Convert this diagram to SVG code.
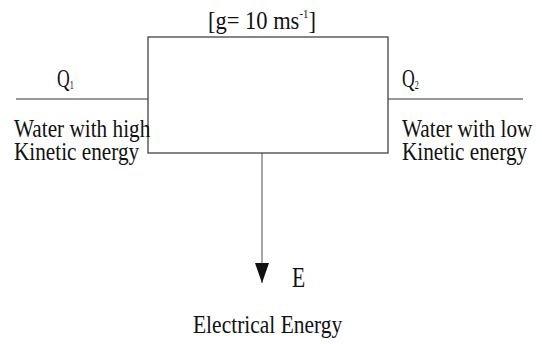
<svg xmlns="http://www.w3.org/2000/svg" width="542" height="344" viewBox="0 0 542 344">
<style>
text{font-family:'Liberation Serif','Times New Roman',serif;fill:#111;font-size:25px}
.ln{stroke:#777;stroke-width:1.3;fill:none}
.sub{font-size:12px}
.q{font-size:26px}
.e{font-size:30px}
</style>
<defs>
<marker id="ah" markerWidth="21" markerHeight="14" refX="20" refY="7" orient="auto" markerUnits="userSpaceOnUse" viewBox="0 0 21 14">
<path d="M0,0 L20,7 L0,14 Z" fill="#111"/>
</marker>
</defs>
<rect width="542" height="344" fill="#fff"/>
<g id="connectors">
<line class="ln" x1="16" y1="99" x2="148" y2="99"/>
<line class="ln" x1="388" y1="99" x2="523" y2="99"/>
<line class="ln" x1="262" y1="153" x2="262" y2="283" marker-end="url(#ah)"/>
</g>
<g id="box">
<rect x="148" y="37" width="240" height="116" fill="none" stroke="#444" stroke-width="1.3"/>
</g>
<g id="title">
<text transform="translate(208,29) scale(0.9,1)">[g= 10 ms<tspan class="sub" dy="-11">-1</tspan><tspan dy="11">]</tspan></text>
</g>
<g id="q1">
<text class="q" transform="translate(57,87) scale(0.68,1)">Q<tspan class="sub" dy="2">1</tspan></text>
</g>
<g id="q2">
<text class="q" transform="translate(402,87) scale(0.68,1)">Q<tspan class="sub" dy="2">2</tspan></text>
</g>
<g id="inlet">
<text transform="translate(14,137) scale(0.85,1)">Water with high</text>
<text transform="translate(14,160) scale(0.85,1)">Kinetic energy</text>
</g>
<g id="outlet">
<text transform="translate(402,137) scale(0.85,1)">Water with low</text>
<text transform="translate(402,160) scale(0.85,1)">Kinetic energy</text>
</g>
<g id="energy">
<text class="e" transform="translate(292,287) scale(0.72,1)">E</text>
<text transform="translate(193,333) scale(0.86,1)">Electrical Energy</text>
</g>
</svg>
